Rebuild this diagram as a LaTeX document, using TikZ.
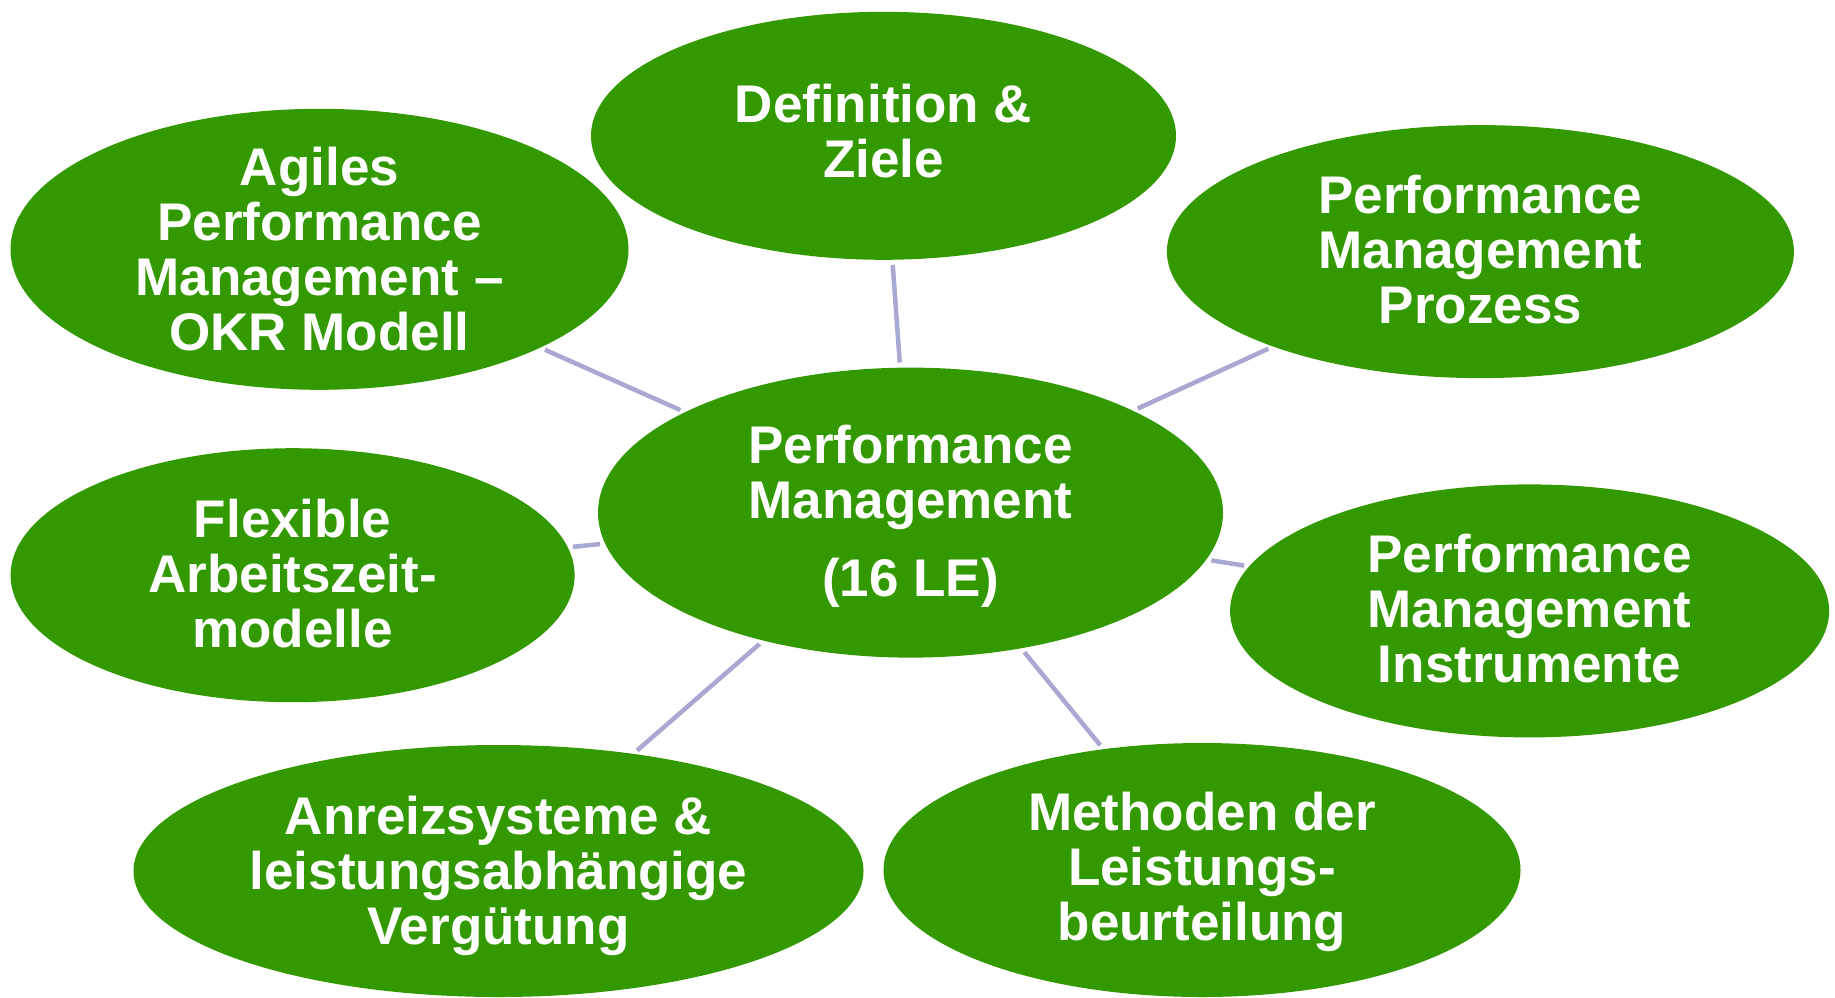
\documentclass[tikz,border=0pt]{standalone}
\usepackage{fontspec}
\setmainfont{Liberation Sans}
\usetikzlibrary{shapes.geometric}
\definecolor{bubblegreen}{HTML}{339900}
\definecolor{linkcol}{HTML}{A8A8D2}
\begin{document}
\begin{tikzpicture}[x=1pt,y=-1pt,
  bubble/.style={ellipse, fill=bubblegreen, draw=none, inner sep=0pt},
  lbl/.style={text=white, font=\fontsize{53}{55}\selectfont\bfseries, align=center, inner sep=0pt},
  link/.style={draw=linkcol, line width=4.5pt, shorten >=5pt, shorten <=5pt}]
\useasboundingbox (0,0) rectangle (1835,997);
% ellipses
\node[bubble, minimum width=625pt, minimum height=290pt] (pm)   at (910.5,512.6) {};
\node[bubble, minimum width=585pt, minimum height=248pt] (def)  at (883.5,135.8) {};
\node[bubble, minimum width=618pt, minimum height=281pt] (agil) at (319.5,249.3) {};
\node[bubble, minimum width=627pt, minimum height=253pt] (proz) at (1480.4,251.6) {};
\node[bubble, minimum width=564pt, minimum height=254pt] (flex) at (292.6,575.2) {};
\node[bubble, minimum width=599pt, minimum height=253pt] (inst) at (1529.6,610.9) {};
\node[bubble, minimum width=730pt, minimum height=252pt] (anr)  at (498.5,871) {};
\node[bubble, minimum width=637pt, minimum height=254pt] (meth) at (1202,870) {};
% connectors
\draw[link] (pm) -- (def);
\draw[link] (pm) -- (agil);
\draw[link] (pm) -- (proz);
\draw[link] (pm) -- (flex);
\draw[link] (pm) -- (inst);
\draw[link] (pm) -- (anr);
\draw[link] (pm) -- (meth);
% labels
\node[lbl] (pmT)   at ([yshift=-4pt]pm.center)   {Performance\\Management\\[23pt](16 LE)};
\node[lbl] (defT)  at ([yshift=5pt]def.center)   {Definition \&\\Ziele};
\node[lbl] (agilT) at (agil) {Agiles\\Performance\\Management –\\OKR Modell};
\node[lbl] (prozT) at ([yshift=2pt]proz.center)  {Performance\\Management\\Prozess};
\node[lbl] (flexT) at ([yshift=2pt]flex.center)  {Flexible\\Arbeitszeit-\\modelle};
\node[lbl] (instT) at ([yshift=2pt]inst.center)  {Performance\\Management\\Instrumente};
\node[lbl] (anrT)  at ([yshift=-5pt]anr.center)  {Anreizsysteme \&\\leistungsabhängige\\Vergütung};
\node[lbl] (methT) at ([yshift=-2pt]meth.center) {Methoden der\\Leistungs-\\beurteilung};
\end{tikzpicture}
\end{document}
